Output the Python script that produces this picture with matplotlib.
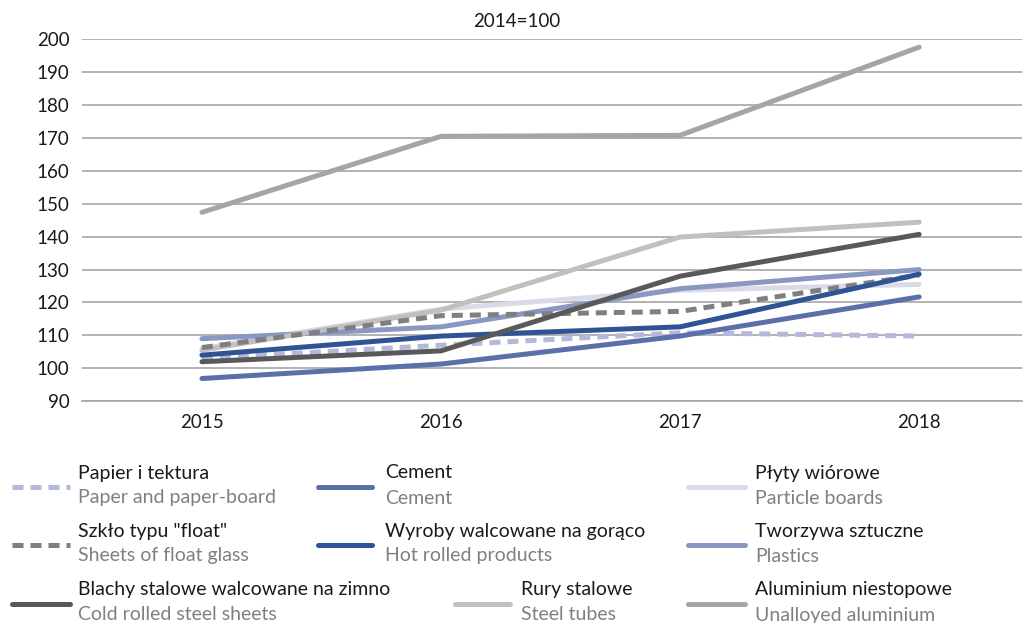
import matplotlib
matplotlib.use('Agg')
import matplotlib.pyplot as plt
from matplotlib.lines import Line2D

plt.rcParams['font.family'] = ['Lato', 'DejaVu Sans']

years = ['2015', '2016', '2017', '2018']

papier = [103.0, 107.0, 110.8, 109.8]
cement = [96.9, 101.3, 109.8, 121.7]
plyty = [106.0, 118.0, 123.7, 125.5]
szklo = [106.3, 116.0, 117.3, 128.3]
wyroby = [104.0, 109.8, 112.6, 128.6]
tworzywa = [109.0, 112.6, 124.2, 130.0]
blachy = [102.0, 105.3, 128.0, 140.7]
rury = [105.5, 117.7, 139.9, 144.4]
aluminium = [147.4, 170.5, 170.8, 197.6]

names_pl = ['Papier i tektura', 'Cement', 'Płyty wiórowe',
            'Szkło typu "float"', 'Wyroby walcowane na gorąco', 'Tworzywa sztuczne',
            'Blachy stalowe walcowane na zimno', 'Rury stalowe', 'Aluminium niestopowe']
names_en = ['Paper and paper-board', 'Cement', 'Particle boards',
            'Sheets of float glass', 'Hot rolled products', 'Plastics',
            'Cold rolled steel sheets', 'Steel tubes', 'Unalloyed aluminium']

series = [papier, cement, plyty, szklo, wyroby, tworzywa, blachy, rury, aluminium]
colors = ['#b3b9db', '#5b6fa8', '#d9dbe9', '#7f7f7f', '#2f5394', '#8a97c3',
          '#595959', '#c0c0c0', '#a5a5a5']
dashed = [True, False, False, True, False, False, False, False, False]

fig = plt.figure(figsize=(10.24, 6.23), dpi=100)
ax = fig.add_axes([0.080, 0.356, 0.918, 0.581])

x = list(range(len(years)))
# draw order so the picture stacks like the reference
order = [2, 0, 1, 5, 7, 3, 4, 6, 8]
for i in order:
    ls = (0, (2.2, 1.4)) if dashed[i] else '-'
    ax.plot(x, series[i], color=colors[i], lw=3.6, ls=ls,
            solid_capstyle='round', dash_capstyle='butt')

ax.set_xlim(-0.502, 3.43)
ax.set_ylim(90, 200)
ax.set_yticks(range(90, 201, 10))
ax.set_xticks(x)
ax.set_xticklabels(years)
ax.tick_params(length=0, labelsize=13.5, colors='#1a1a1a')
ax.tick_params(axis='x', pad=9)
ax.tick_params(axis='y', pad=9)
ax.grid(axis='y', color='#a6a6a6', lw=1.2)
ax.set_axisbelow(True)
for s in ['top', 'right', 'left']:
    ax.spines[s].set_visible(False)
ax.spines['bottom'].set_color('#a6a6a6')
ax.spines['bottom'].set_linewidth(1.2)

fig.text(0.505, 0.966, '2014=100', ha='center', va='center', fontsize=13.5,
         color='#1a1a1a')

# legend: three rows x three columns
handle_x = [(12, 70), (318, 372), (688, 745)]
text_x = [78, 385, 755]
row_y = [487, 545, 604]
handle_x_r3 = [(12, 70), (455, 510), (688, 745)]
text_x_r3 = [78, 521, 755]
W, H = 1024, 623
for k in range(9):
    r, c = divmod(k, 3)
    hx = handle_x_r3[c] if r == 2 else handle_x[c]
    tx = text_x_r3[c] if r == 2 else text_x[c]
    yy = row_y[r]
    ls = (0, (2.2, 1.4)) if dashed[k] else '-'
    fig.add_artist(Line2D([hx[0] / W, hx[1] / W], [1 - yy / H, 1 - yy / H],
                          color=colors[k], lw=3.6, ls=ls,
                          solid_capstyle='round', dash_capstyle='butt'))
    fig.text(tx / W, 1 - (yy - 14) / H, names_pl[k], ha='left', va='center',
             fontsize=14, color='#1a1a1a')
    fig.text(tx / W, 1 - (yy + 11) / H, names_en[k], ha='left', va='center',
             fontsize=14, color='#808080')

fig.savefig('out.png', dpi=100)
